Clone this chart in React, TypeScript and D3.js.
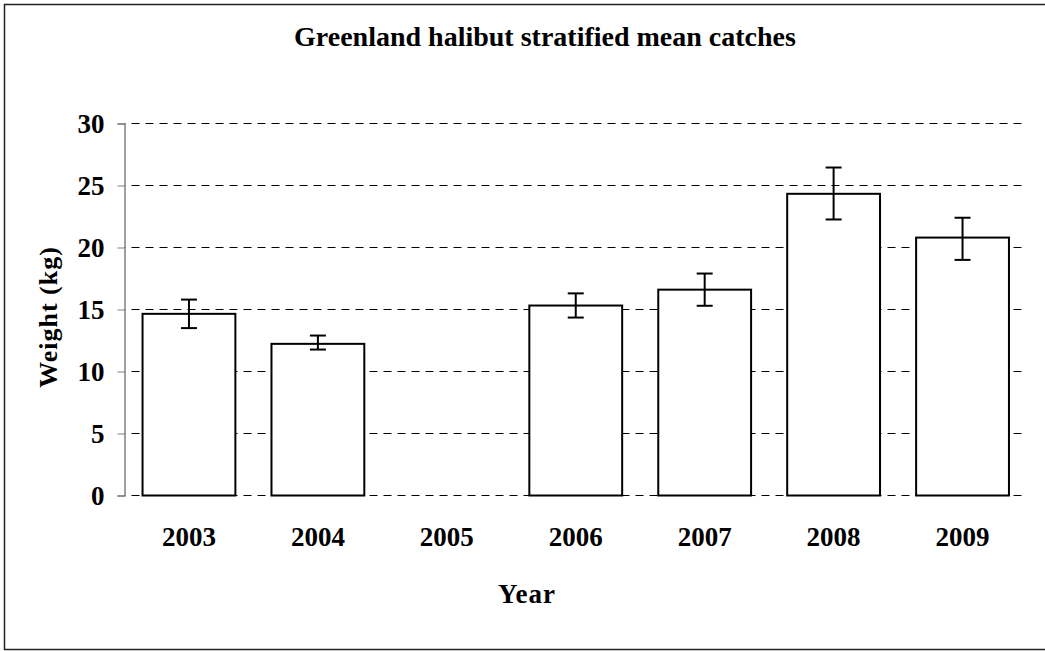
import { useEffect, useRef } from "react";
import * as d3 from "d3";

const years = ["2003", "2004", "2005", "2006", "2007", "2008", "2009"];
const means = [14.65, 12.23, null, 15.32, 16.6, 24.33, 20.8];
const errLow = [13.5, 11.77, null, 14.35, 15.3, 22.26, 19.0];
const errHigh = [15.8, 12.9, null, 16.3, 17.9, 26.45, 22.4];
const yTicks = [0, 5, 10, 15, 20, 25, 30];

export default function App() {
  const svgRef = useRef<SVGSVGElement | null>(null);

  useEffect(() => {
    document.body.style.margin = "0";
    const width = 1045;
    const height = 651;
    const margin = { top: 123.5, right: 18, bottom: 156, left: 124.5 };
    const font = "'Liberation Serif', 'Times New Roman', serif";

    const svg = d3.select(svgRef.current).attr("width", width).attr("height", height);
    svg.selectAll("*").remove();

    // outer frame
    svg
      .append("rect")
      .attr("x", 4.5)
      .attr("y", 4.5)
      .attr("width", width + 10)
      .attr("height", 645)
      .attr("fill", "white")
      .attr("stroke", "#222")
      .attr("stroke-width", 1.5);

    const chart = svg.append("g").attr("transform", `translate(${margin.left}, ${margin.top})`);
    const chartWidth = width - margin.left - margin.right;
    const chartHeight = 372;

    const x = d3.scaleBand().domain(years).range([0, chartWidth]).paddingInner(0.28).paddingOuter(0.14);
    const y = d3.scaleLinear().domain([0, 30]).range([chartHeight, 0]);

    // grid lines
    chart
      .selectAll("line.grid")
      .data(yTicks)
      .join("line")
      .attr("class", "grid")
      .attr("x1", 0)
      .attr("x2", chartWidth)
      .attr("y1", (d) => Math.round(y(d)))
      .attr("y2", (d) => Math.round(y(d)))
      .attr("stroke", "#000")
      .attr("stroke-dasharray", "8,6")
      .attr("stroke-dashoffset", -7)
      .attr("stroke-width", 1);

    // Y axis
    const yAxis = chart
      .append("g")
      .call(d3.axisLeft(y).tickValues(yTicks).tickSize(7).tickPadding(13));
    yAxis.select(".domain").attr("stroke", "#808080").attr("stroke-width", 1.5);
    yAxis.selectAll(".tick line").attr("stroke", "#808080");
    yAxis
      .selectAll(".tick text")
      .attr("font-family", font)
      .attr("font-weight", "bold")
      .attr("font-size", 27)
      .attr("fill", "#000");

    // bars
    const idx = d3.range(years.length).filter((i) => means[i] != null);
    chart
      .selectAll("rect.bar")
      .data(idx)
      .join("rect")
      .attr("class", "bar")
      .attr("x", (i) => x(years[i])!)
      .attr("y", (i) => y(means[i]!))
      .attr("width", x.bandwidth())
      .attr("height", (i) => chartHeight - y(means[i]!))
      .attr("fill", "white")
      .attr("stroke", "#000")
      .attr("stroke-width", 2);

    // error bars
    const cap = 8;
    const eb = chart.selectAll("g.err").data(idx).join("g").attr("class", "err")
      .attr("transform", (i) => `translate(${x(years[i])! + x.bandwidth() / 2},0)`);
    eb.append("line").attr("y1", (i) => y(errLow[i]!)).attr("y2", (i) => y(errHigh[i]!))
      .attr("stroke", "#000").attr("stroke-width", 2);
    eb.append("line").attr("x1", -cap).attr("x2", cap)
      .attr("y1", (i) => y(errHigh[i]!)).attr("y2", (i) => y(errHigh[i]!))
      .attr("stroke", "#000").attr("stroke-width", 2);
    eb.append("line").attr("x1", -cap).attr("x2", cap)
      .attr("y1", (i) => y(errLow[i]!)).attr("y2", (i) => y(errLow[i]!))
      .attr("stroke", "#000").attr("stroke-width", 2);

    // X labels
    chart
      .selectAll("text.xl")
      .data(years)
      .join("text")
      .attr("class", "xl")
      .attr("x", (d) => x(d)! + x.bandwidth() / 2)
      .attr("y", chartHeight + 50)
      .attr("text-anchor", "middle")
      .attr("font-family", font)
      .attr("font-weight", "bold")
      .attr("font-size", 27)
      .text((d) => d);

    // titles
    svg
      .append("text")
      .attr("x", 545)
      .attr("y", 46)
      .attr("text-anchor", "middle")
      .attr("font-family", font)
      .attr("font-weight", "bold")
      .attr("font-size", 28)
      .text("Greenland halibut stratified mean catches");

    svg
      .append("text")
      .attr("x", 527)
      .attr("y", 603)
      .attr("text-anchor", "middle")
      .attr("font-family", font)
      .attr("font-weight", "bold")
      .attr("font-size", 27)
      .attr("letter-spacing", 1)
      .text("Year");

    svg
      .append("text")
      .attr("transform", "translate(57, 317) rotate(-90)")
      .attr("text-anchor", "middle")
      .attr("font-family", font)
      .attr("font-weight", "bold")
      .attr("font-size", 26)
      .attr("letter-spacing", 1)
      .text("Weight (kg)");
  }, []);

  return <svg ref={svgRef}></svg>;
}
